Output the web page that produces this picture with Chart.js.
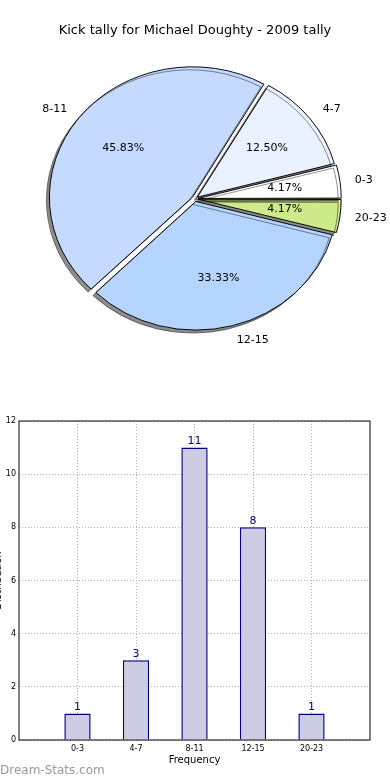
<!DOCTYPE html>
<html>
<head>
<meta charset="utf-8">
<script src="https://cdn.jsdelivr.net/npm/chart.js@4.4.0/dist/chart.umd.min.js"></script>
<style>
  body { margin: 0; background: #fff; width: 390px; height: 780px; overflow: hidden; position: relative; font-family: 'DejaVu Sans', sans-serif; }
  #pieBox { position: absolute; left: 0; top: 0; width: 390px; height: 400px; }
  #barBox { position: absolute; left: -8px; top: 400px; width: 398px; height: 380px; }
  #mark { position: absolute; left: 0; top: 763px; font-size: 12px; color: #999; }
</style>
</head>
<body>
<div id="pieBox"><canvas id="pie"></canvas></div>
<div id="barBox"><canvas id="bar"></canvas></div>
<div id="mark">Dream-Stats.com</div>
<script>
const categories = ['0-3', '4-7', '8-11', '12-15', '20-23'];
const kicks = [1, 3, 11, 8, 1];
const sliceColors = ['#ffffff', '#eaf1ff', '#c6d9ff', '#b5d5ff', '#cdeb8b'];
const yTicks = [0, 2, 4, 6, 8, 10, 12];

const font = 'DejaVu Sans';
const squash = 0.91;
const total = kicks.reduce((a, b) => a + b, 0);

// matplotlib goes counter-clockwise from 3 o'clock, chart.js clockwise
const pieLabels = categories.slice().reverse();
const pieValues = kicks.slice().reverse();
const pieColors = sliceColors.slice().reverse();

const pieShape = {
  id: 'pieShape',
  beforeDatasetsDraw(chart) {
    const a = chart.getDatasetMeta(0).data[0];
    const ctx = chart.ctx;
    ctx.save();
    ctx.translate(a.x, a.y);
    ctx.scale(1, squash);
    ctx.translate(-a.x, -a.y);
    ctx.shadowColor = 'rgba(0,0,0,0.45)';
    ctx.shadowOffsetX = -3;
    ctx.shadowOffsetY = 3;
  },
  afterDatasetsDraw(chart) {
    chart.ctx.restore();
  },
  afterDraw(chart) {
    const ctx = chart.ctx;
    ctx.save();
    ctx.font = '11px "' + font + '"';
    ctx.fillStyle = '#000';
    ctx.textBaseline = 'middle';
    chart.getDatasetMeta(0).data.forEach((arc, i) => {
      const mid = (arc.startAngle + arc.endAngle) / 2;
      const off = arc.options.offset / 2; // chart.js moves an arc by half its offset
      const R = arc.outerRadius;
      const at = k => [arc.x + Math.cos(mid) * (off + k * R), arc.y + Math.sin(mid) * (off + k * R) * squash];
      let [x, y] = at(1.1);
      ctx.textAlign = Math.cos(mid) > 0 ? 'left' : 'right';
      ctx.fillText(pieLabels[i], x, y);
      [x, y] = at(0.6);
      ctx.textAlign = 'center';
      ctx.fillText((pieValues[i] / total * 100).toFixed(2) + '%', x, y);
    });
    ctx.restore();
  }
};

new Chart(document.getElementById('pie'), {
  type: 'pie',
  data: {
    labels: pieLabels,
    datasets: [{
      data: pieValues,
      backgroundColor: pieColors,
      borderColor: '#000',
      borderWidth: 1,
      offset: 12
    }]
  },
  options: {
    responsive: true,
    maintainAspectRatio: false,
    animation: false,
    events: [],
    rotation: 90,
    radius: 141,
    layout: { padding: { bottom: 41 } },
    plugins: {
      legend: { display: false },
      tooltip: { enabled: false },
      title: {
        display: true,
        text: 'Kick tally for Michael Doughty - 2009 tally',
        color: '#000',
        font: { family: font, size: 13, weight: 'normal' },
        padding: { top: 23, bottom: 0 }
      }
    }
  },
  plugins: [pieShape]
});

const barExtras = {
  id: 'barExtras',
  afterDraw(chart) {
    const ctx = chart.ctx;
    const { left, top, right, bottom } = chart.chartArea;
    ctx.save();
    ctx.strokeStyle = '#000';
    ctx.lineWidth = 1;
    ctx.strokeRect(left, top, right - left, bottom - top);
    ctx.font = '11px "' + font + '"';
    ctx.fillStyle = '#000080';
    ctx.textAlign = 'center';
    ctx.textBaseline = 'bottom';
    chart.getDatasetMeta(0).data.forEach((bar, i) => {
      ctx.fillText(String(kicks[i]), bar.x, bar.y - 1);
    });
    ctx.restore();
  }
};

const gridStyle = { color: '#b0b0b0', lineWidth: 1, drawTicks: false, offset: false };

new Chart(document.getElementById('bar'), {
  type: 'bar',
  data: {
    datasets: [{
      data: kicks.map((v, i) => ({ x: i, y: v })),
      backgroundColor: 'rgba(204,204,228,1)',
      borderColor: '#000080',
      borderWidth: 1.5,
      barPercentage: 0.45,
      categoryPercentage: 1
    }]
  },
  options: {
    responsive: true,
    maintainAspectRatio: false,
    animation: false,
    events: [],
    layout: { padding: { top: 21, right: 20, bottom: 10, left: 0 } },
    plugins: { legend: { display: false }, tooltip: { enabled: false } },
    scales: {
      x: {
        type: 'linear',
        min: -1,
        max: 5,
        offset: false,
        z: 1,
        afterBuildTicks: s => { s.ticks = categories.map((c, i) => ({ value: i })); },
        afterFit: s => { s.height = 30; },
        grid: gridStyle,
        border: { display: false, dash: [1, 2] },
        ticks: {
          color: '#000',
          padding: 4,
          font: { family: font, size: 8 },
          callback: v => categories[v]
        },
        title: { display: true, text: 'Frequency', color: '#000', font: { family: font, size: 10 } }
      },
      y: {
        min: 0,
        max: 12,
        z: 1,
        afterBuildTicks: s => { s.ticks = yTicks.map(v => ({ value: v })); },
        afterFit: s => { s.width = 27; },
        grid: gridStyle,
        border: { display: false, dash: [1, 2] },
        ticks: { color: '#000', padding: 3, font: { family: font, size: 8 } },
        title: { display: true, text: 'Distribution', color: '#000', padding: 0, font: { family: font, size: 10 } }
      }
    }
  },
  plugins: [barExtras]
});
</script>
</body>
</html>
